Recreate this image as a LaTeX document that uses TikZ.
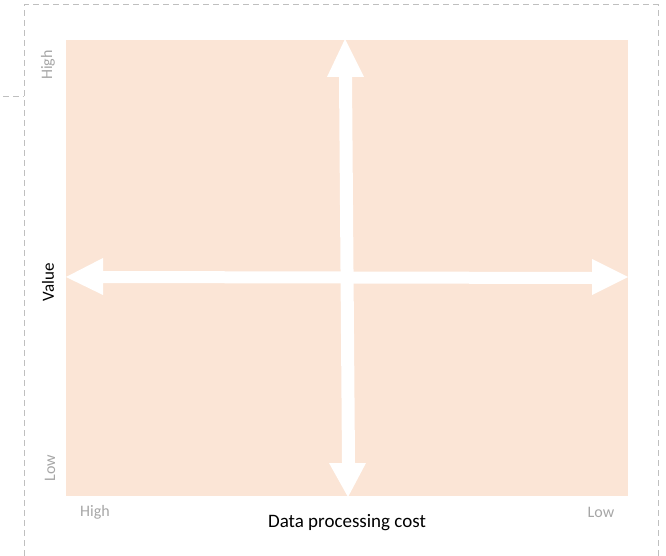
\documentclass[tikz,border=0pt]{standalone}
\usepackage{fontspec}
\setmainfont{Carlito}
\definecolor{peach}{HTML}{FBE5D6}
\definecolor{lbl}{HTML}{A6A6A6}
\definecolor{frame}{HTML}{BFBFBF}
\begin{document}
\begin{tikzpicture}[x=1pt,y=-1pt,
  framestyle/.style={draw=frame, line width=1pt, dash pattern=on 6pt off 4pt},
  graylabel/.style={text=lbl, font=\fontsize{16}{19}\selectfont, inner sep=0pt},
  axislabel/.style={text=black, inner sep=0pt},
  arrowfill/.style={fill=white, draw=none}]
\useasboundingbox (0,0) rectangle (666,556);
% frame
\draw[framestyle] (24,556) -- (24,5) -- (658,5) -- (658,556);
\draw[framestyle] (3,97) -- (24,97);
% quadrant background
\fill[peach] (66,40) rectangle (628,496);
% vertical double arrow
\fill[arrowfill] (345,39) -- (364,77) -- (352,77) -- (355,463) -- (366,463) -- (348,497)
  -- (329,463) -- (342,463) -- (339,77) -- (327,77) -- cycle;
% horizontal double arrow
\fill[arrowfill] (66,277) -- (103,258) -- (103,271) -- (592,272) -- (592,259) -- (628,277)
  -- (592,295) -- (592,284) -- (103,283) -- (103,295) -- cycle;
% labels
\node[graylabel, rotate=90] (vhigh) at (48,65) {High};
\node[graylabel, rotate=90] (vlow) at (50,468) {Low};
\node[axislabel, rotate=90, font=\fontsize{17}{20}\selectfont] (value) at (48,282) {Value};
\node[graylabel] (hhigh) at (95,512) {High};
\node[graylabel] (hlow) at (601,512) {Low};
\node[axislabel, font=\fontsize{19}{23}\selectfont] (cost) at (347,523) {Data processing cost};
\end{tikzpicture}
\end{document}
